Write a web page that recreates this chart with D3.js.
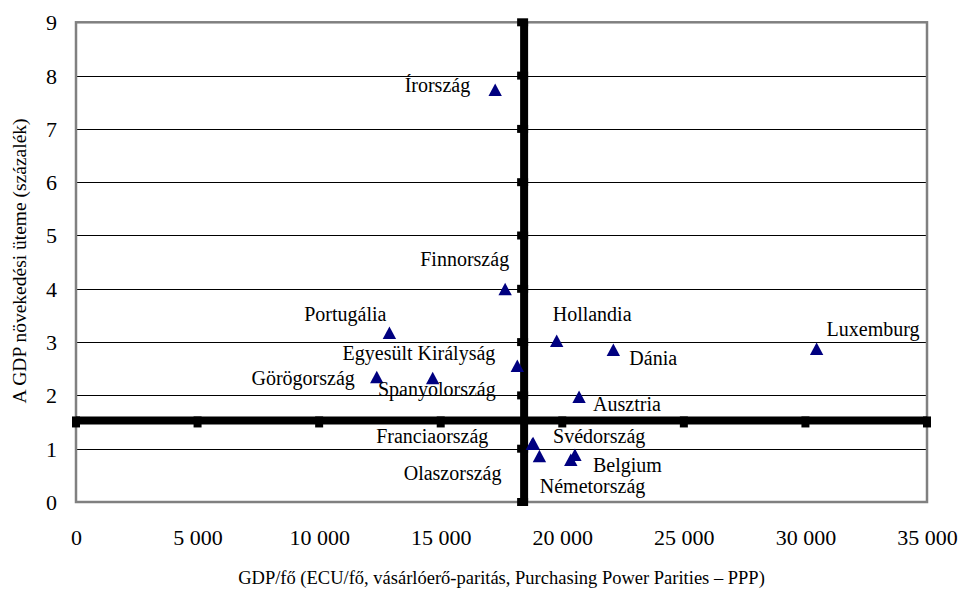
<!DOCTYPE html>
<html lang="hu">
<head>
<meta charset="utf-8">
<script src="https://cdn.jsdelivr.net/npm/d3@7"></script>
<style>
  html, body { margin: 0; padding: 0; background: #fff; }
  svg { display: block; font-family: "Liberation Serif", "Times New Roman", serif; }
</style>
</head>
<body>
<svg id="chart" width="959" height="591"></svg>
<script>
// EU member states: GDP per head (PPP, ECU) against GDP growth (%)
const countries = [
  "Írország", "Finnország", "Portugália", "Hollandia", "Dánia",
  "Luxemburg", "Egyesült Királyság", "Görögország", "Spanyolország", "Ausztria",
  "Franciaország", "Svédország", "Olaszország", "Belgium", "Németország"
];
const gdpPerCapita = [
  17240, 17650, 12890, 19770, 22100,
  30460, 18150, 12370, 14670, 20690,
  18770, 18800, 19060, 20520, 20350
];
const growthRate = [
  7.73, 3.99, 3.17, 3.02, 2.85,
  2.87, 2.55, 2.34, 2.32, 1.97,
  1.09, 1.10, 0.86, 0.88, 0.79
];

// EU averages, drawn as the crossing thick lines
const avgGdpPerCapita = 18430;
const avgGrowthRate = 1.53;

const xTicks = [0, 5000, 10000, 15000, 20000, 25000, 30000, 35000];
const yTicks = [0, 1, 2, 3, 4, 5, 6, 7, 8, 9];

const xTitle = "GDP/fő (ECU/fő, vásárlóerő-paritás, Purchasing Power Parities – PPP)";
const yTitle = "A GDP növekedési üteme (százalék)";

// label placement relative to each marker: [text-anchor, dx, dy]
const labelPlacement = {
  "Írország": ["end", -25, 2],
  "Finnország": ["end", 4, -23],
  "Portugália": ["end", -3, -12],
  "Hollandia": ["start", -4, -20],
  "Dánia": ["start", 16, 15],
  "Luxemburg": ["start", 10, -13],
  "Egyesült Királyság": ["end", -22, -6],
  "Görögország": ["end", -22, 8],
  "Spanyolország": ["end", 63, 18],
  "Ausztria": ["start", 14, 14],
  "Franciaország": ["end", -44, -1],
  "Svédország": ["start", 20, 0],
  "Olaszország": ["end", -38, 24],
  "Belgium": ["start", 18, 17],
  "Németország": ["start", -31, 33]
};

const plot = { left: 76, right: 927, top: 22.3, bottom: 502 };

const x = d3.scaleLinear().domain([0, 35000]).range([plot.left, plot.right]);
const y = d3.scaleLinear().domain([0, 9]).range([plot.bottom, plot.top]);

const hu = d3.formatLocale({ decimal: ",", thousands: " ", grouping: [3], currency: ["", ""] });
const fmt = hu.format(",d");

const svg = d3.select("#chart");

// horizontal gridlines
svg.append("g")
  .selectAll("line")
  .data(yTicks.filter(t => t > 0 && t < 9))
  .join("line")
  .attr("x1", plot.left).attr("x2", plot.right)
  .attr("y1", d => Math.round(y(d)) + 0.5).attr("y2", d => Math.round(y(d)) + 0.5)
  .attr("stroke", "#000").attr("stroke-width", 1)
  .attr("shape-rendering", "crispEdges");

// plot frame
svg.append("rect")
  .attr("x", plot.left).attr("y", plot.top)
  .attr("width", plot.right - plot.left).attr("height", plot.bottom - plot.top)
  .attr("fill", "none").attr("stroke", "#808080").attr("stroke-width", 2.5);

// tick labels along the plot edges
const xAxis = svg.append("g")
  .attr("transform", `translate(0,${plot.bottom})`)
  .call(d3.axisBottom(x).tickValues(xTicks).tickFormat(fmt).tickSize(0).tickPadding(0));
xAxis.select(".domain").remove();
xAxis.selectAll("text")
  .attr("dy", null).attr("y", 43)
  .attr("font-size", 22).attr("font-family", "Liberation Serif").attr("fill", "#000");

const yAxis = svg.append("g")
  .attr("transform", `translate(${plot.left},0)`)
  .call(d3.axisLeft(y).tickValues(yTicks).tickFormat(d3.format("d")).tickSize(0).tickPadding(19));
yAxis.select(".domain").remove();
yAxis.selectAll("text")
  .attr("dy", "0.34em")
  .attr("font-size", 22).attr("font-family", "Liberation Serif").attr("fill", "#000");

// EU average lines with their tick marks
const avg = svg.append("g").attr("stroke", "#000");
const yAvg = y(avgGrowthRate);
const xAvg = x(avgGdpPerCapita);

avg.append("line")
  .attr("x1", plot.left).attr("x2", plot.right)
  .attr("y1", yAvg).attr("y2", yAvg)
  .attr("stroke-width", 8);
avg.selectAll("line.xt")
  .data(xTicks)
  .join("line").attr("class", "xt")
  .attr("x1", d => x(d)).attr("x2", d => x(d))
  .attr("y1", yAvg - 4).attr("y2", yAvg + 7)
  .attr("stroke-width", 8);

avg.append("line")
  .attr("x1", xAvg).attr("x2", xAvg)
  .attr("y1", plot.top).attr("y2", plot.bottom)
  .attr("stroke-width", 8);
avg.selectAll("line.yt")
  .data(yTicks)
  .join("line").attr("class", "yt")
  .attr("x1", xAvg + 4).attr("x2", xAvg - 7)
  .attr("y1", d => y(d)).attr("y2", d => y(d))
  .attr("stroke-width", 8);

// country markers
const points = countries.map((name, i) => ({ name, gdp: gdpPerCapita[i], growth: growthRate[i] }));
const tri = "M0,-6.5L6.7,6L-6.7,6Z";

svg.append("g")
  .selectAll("path")
  .data(points)
  .join("path")
  .attr("d", tri)
  .attr("transform", d => `translate(${x(d.gdp)},${y(d.growth)})`)
  .attr("fill", "#000080");

// country labels
svg.append("g")
  .selectAll("text")
  .data(points)
  .join("text")
  .attr("x", d => x(d.gdp) + labelPlacement[d.name][1])
  .attr("y", d => y(d.growth) + labelPlacement[d.name][2])
  .attr("text-anchor", d => labelPlacement[d.name][0])
  .attr("font-size", 20)
  .attr("fill", "#000")
  .text(d => d.name);

// axis titles
svg.append("text")
  .attr("x", (plot.left + plot.right) / 2).attr("y", 584)
  .attr("text-anchor", "middle")
  .attr("font-size", 18.5)
  .text(xTitle);

svg.append("text")
  .attr("transform", "translate(26,261) rotate(-90)")
  .attr("text-anchor", "middle")
  .attr("font-size", 19.5)
  .text(yTitle);
</script>
</body>
</html>
